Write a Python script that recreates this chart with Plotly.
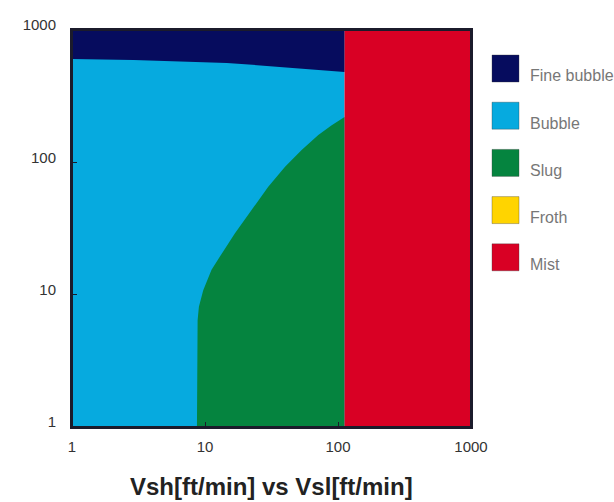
import plotly.graph_objects as go

# ---- data ----
categories = ["Fine bubble", "Bubble", "Slug", "Froth", "Mist"]
colors = ["#060C5E", "#06AADF", "#05843F", "#FFD400", "#D90024"]

x_range = [1, 1000]
y_range = [1, 1000]
mist_start_x = 112          # Vsh where Mist region begins

# Fine bubble / Bubble boundary
fine_x = [1, 2.9, 14.6, 45.6, 112]
fine_y = [604, 594, 564, 517, 482]

# Slug / Bubble boundary (bottom to top)
slug_x = [8.7, 8.8, 9.0, 9.7, 11.2, 13.4, 16.8, 22.4, 29.9, 40.0, 53.3, 71.1, 89.7, 112]
slug_y = [1, 6.4, 8.1, 10.8, 15.4, 20.5, 29.1, 43.6, 65.5, 92.7, 124, 161, 191, 220]

tick_vals = [1, 10, 100, 1000]
tick_text = ["1", "10", "100", "1000"]
title_text = "Vsh[ft/min] vs Vsl[ft/min]"

# ---- layout geometry (pixels) ----
W, H = 614, 502
L, R, T, B = 72, 471, 30, 427
FONT = "Liberation Sans, Arial, sans-serif"

fig = go.Figure()

# Bubble: whole left zone
fig.add_trace(go.Scatter(
    x=[x_range[0], mist_start_x, mist_start_x, x_range[0], x_range[0]],
    y=[y_range[0], y_range[0], y_range[1], y_range[1], y_range[0]],
    fill="toself", fillcolor=colors[1], mode="none", name=categories[1],
    showlegend=False, hoverinfo="skip"))

# Fine bubble: above the boundary
fig.add_trace(go.Scatter(
    x=fine_x + [mist_start_x, x_range[0]],
    y=fine_y + [y_range[1], y_range[1]],
    fill="toself", fillcolor=colors[0], mode="none", name=categories[0],
    showlegend=False, hoverinfo="skip"))

# Slug
fig.add_trace(go.Scatter(
    x=slug_x + [mist_start_x],
    y=slug_y + [y_range[0]],
    fill="toself", fillcolor=colors[2], mode="none", name=categories[2],
    showlegend=False, hoverinfo="skip"))

# Mist
fig.add_trace(go.Scatter(
    x=[mist_start_x, x_range[1], x_range[1], mist_start_x, mist_start_x],
    y=[y_range[0], y_range[0], y_range[1], y_range[1], y_range[0]],
    fill="toself", fillcolor=colors[4], mode="none", name=categories[4],
    showlegend=False, hoverinfo="skip"))

# ---- custom legend ----
pw, ph = R - L, B - T
def px_x(px):
    return (px - L) / pw
def px_y(py):
    return (B - py) / ph

sq_left, sq_size, first_top, step = 492, 27, 55, 47.2
shapes = []
annotations = []
for i, (cat, col) in enumerate(zip(categories, colors)):
    top = first_top + i * step
    shapes.append(dict(type="rect", xref="paper", yref="paper",
                       x0=px_x(sq_left), x1=px_x(sq_left + sq_size),
                       y0=px_y(top + sq_size), y1=px_y(top),
                       fillcolor=col, line=dict(color="rgba(60,60,60,0.35)", width=1)))
    annotations.append(dict(xref="paper", yref="paper", x=px_x(528), y=px_y(top + sq_size - 6),
                            text=cat, showarrow=False, xanchor="left", yanchor="middle",
                            font=dict(family=FONT, size=16, color="#777")))

# plot frame
shapes.append(dict(type="rect", xref="paper", yref="paper", x0=0, x1=1, y0=0, y1=1,
                   line=dict(color="#1b1b2b", width=2), fillcolor="rgba(0,0,0,0)",
                   layer="above"))

annotations.append(dict(xref="paper", yref="paper", x=px_x(271), y=px_y(486),
                        text="<b>" + title_text + "</b>", showarrow=False,
                        xanchor="center", yanchor="middle",
                        font=dict(family=FONT, size=24, color="#222")))

axis_common = dict(type="log", tickvals=tick_vals, ticktext=tick_text,
                   showgrid=False, zeroline=False, showline=True, mirror=True,
                   linecolor="#1b1b2b", linewidth=2, ticks="inside", ticklen=5,
                   tickcolor="#1b1b2b", layer="above traces",
                   tickfont=dict(family=FONT, size=15, color="#333"))

fig.update_layout(
    width=W, height=H,
    margin=dict(l=L, r=W - R, t=T, b=H - B),
    paper_bgcolor="white", plot_bgcolor="white",
    xaxis=dict(range=[0, 3], **axis_common, ticklabelstandoff=5),
    yaxis=dict(range=[0, 3], **axis_common, ticklabelstandoff=11, ticklabelshift=-5),
    shapes=shapes, annotations=annotations, showlegend=False,
)

fig.write_html("out.html")
